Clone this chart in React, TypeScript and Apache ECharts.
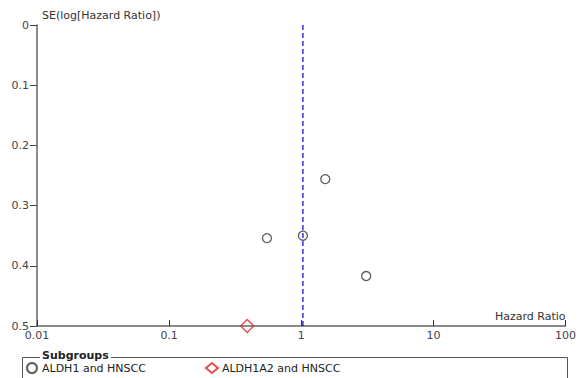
import React, { useEffect, useRef } from "react";
import * as echarts from "echarts";

// Funnel plot: hazard ratio (log scale) vs. standard error of log HR
const groupNames = ["ALDH1 and HNSCC", "ALDH1A2 and HNSCC"];
const aldh1HR = [0.55, 1.03, 1.52, 3.1];
const aldh1SE = [0.354, 0.35, 0.256, 0.417];
const aldh1a2HR = [0.39];
const aldh1a2SE = [0.5];
const pooledHR = 1.03;
const xTicks = [0.01, 0.1, 1, 10, 100];
const yTicks = [0, 0.1, 0.2, 0.3, 0.4, 0.5];

const FONT = "DejaVu Sans";

export default function App() {
  const ref = useRef<HTMLDivElement>(null);

  useEffect(() => {
    if (!ref.current) return;
    const chart = echarts.init(ref.current, null, { renderer: "svg" });
    chart.setOption({
      animation: false,
      backgroundColor: "#fff",
      textStyle: { fontFamily: FONT },
      grid: { left: 37, right: 12, top: 25, bottom: 52, containLabel: false },
      xAxis: {
        type: "log",
        logBase: 10,
        position: "bottom",
        min: xTicks[0],
        max: xTicks[xTicks.length - 1],
        name: "Hazard Ratio",
        nameLocation: "end",
        nameGap: 0,
        nameTextStyle: {
          fontFamily: FONT,
          fontSize: 11,
          color: "#333",
          align: "right",
          verticalAlign: "bottom",
          padding: [0, 0, 4, 0],
        },
        axisLine: { show: true, onZero: false, lineStyle: { color: "#666", width: 1.5 } },
        axisTick: { show: true, inside: true, length: 6, lineStyle: { color: "#333", width: 1 } },
        axisLabel: {
          fontFamily: FONT,
          fontSize: 11,
          color: "#444",
          margin: 4,
          formatter: (v: number) => String(v),
        },
        splitLine: { show: false },
        minorTick: { show: false },
      },
      yAxis: {
        type: "value",
        inverse: true,
        position: "left",
        min: yTicks[0],
        max: yTicks[yTicks.length - 1],
        interval: 0.1,
        axisLine: { show: true, onZero: false, lineStyle: { color: "#666", width: 1.5 } },
        axisTick: { show: true, length: 7, lineStyle: { color: "#444" } },
        axisLabel: {
          fontFamily: FONT,
          fontSize: 11,
          color: "#444",
          margin: 8,
          formatter: (v: number) => String(Math.round(v * 10) / 10),
        },
        splitLine: { show: false },
      },
      legend: {
        left: 26,
        top: 362,
        itemGap: 59,
        itemWidth: 12,
        itemHeight: 10,
        padding: 0,
        textStyle: { fontFamily: FONT, fontSize: 11, color: "#222", padding: [0, 0, 0, -1] },
        data: groupNames,
      },
      graphic: [
        {
          type: "text",
          left: 42,
          top: 10,
          style: {
            text: "SE(log[Hazard Ratio])",
            font: `11px "${FONT}"`,
            fill: "#333",
          },
        },
        {
          type: "rect",
          shape: { x: 22.5, y: 357.5, width: 545, height: 40 },
          style: { fill: "none", stroke: "#555", lineWidth: 1 },
          z: 1,
        },
        {
          type: "text",
          x: 40,
          y: 350,
          style: {
            text: "Subgroups",
            font: `bold 11px "${FONT}"`,
            fill: "#222",
            backgroundColor: "#fff",
            padding: [0, 2, 0, 2],
          },
          z: 2,
        },
      ],
      series: [
        {
          // vertical reference line at the pooled estimate
          name: "pooled",
          type: "line",
          silent: true,
          symbol: "none",
          lineStyle: { color: "#0000e0", type: [5, 3], width: 1.2 },
          data: [
            [pooledHR, yTicks[0]],
            [pooledHR, yTicks[yTicks.length - 1]],
          ],
          z: 1,
        },
        {
          name: groupNames[0],
          type: "scatter",
          symbol: "circle",
          symbolSize: 9,
          itemStyle: { color: "rgba(0,0,0,0)", borderColor: "#333", borderWidth: 1.3 },
          data: aldh1HR.map((hr, i) => [hr, aldh1SE[i]]),
          z: 3,
        },
        {
          name: groupNames[1],
          type: "scatter",
          symbol: "diamond",
          symbolSize: [13, 13],
          itemStyle: { color: "rgba(0,0,0,0)", borderColor: "#e02020", borderWidth: 1.4 },
          data: aldh1a2HR.map((hr, i) => [hr, aldh1a2SE[i]]),
          z: 3,
        },
      ],
    });
    return () => chart.dispose();
  }, []);

  return (
    <div
      ref={ref}
      style={{ position: "absolute", left: 0, top: 0, width: 579, height: 378 }}
    />
  );
}
